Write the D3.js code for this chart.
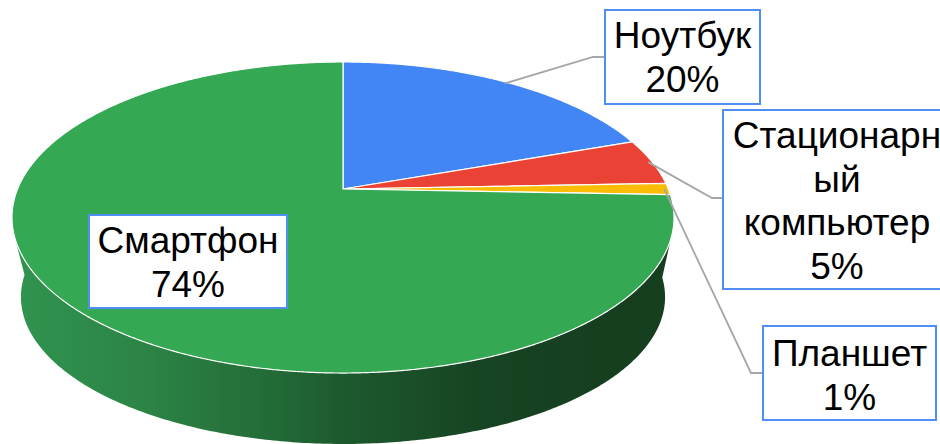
<!DOCTYPE html>
<html>
<head>
<meta charset="utf-8">
<script src="https://cdn.jsdelivr.net/npm/d3@7"></script>
<style>
    html, body { margin: 0; padding: 0; background: #fff; overflow: hidden; }
</style>
</head>
<body>
<div id="chart"></div>
<script>
const categories = ["Ноутбук", "Стационарный компьютер", "Планшет", "Смартфон"];
const shares = [19.6, 4.8, 1.2, 74.4];
const sliceColors = ["#4285f4", "#ea4335", "#fbbc04", "#34a853"];
const labelLines = [["Ноутбук"], ["Стационарн", "ый", "компьютер"], ["Планшет"], ["Смартфон"]];

const width = 940;
const height = 444;

const svg = d3.select("#chart")
    .append("svg")
    .attr("width", width)
    .attr("height", height)
    .style("display", "block");

// tilted disc: unit circle goes through a small perspective divide
const persp = 0.1833;
const cx = 343;
const cy = 189;
const discX = 325.4;
const discY = 150.3;

function project(angle, r) {
    const u = Math.sin(angle) * r;
    const v = -Math.cos(angle) * r;
    const w = 1 - persp * v;
    return [cx + discX * u / w, cy + discY * v / w];
}

// the lower rim of the wall is a slightly smaller ellipse further down
const rimCentre = 217.5;
const lowerCentre = 297;
const lowerScaleX = 0.973;
const lowerScaleY = 0.945;

function projectLower(angle) {
    const p = project(angle, 1);
    return [cx + (p[0] - cx) * lowerScaleX, lowerCentre + (p[1] - rimCentre) * lowerScaleY];
}

const line = d3.line();
const pie = d3.pie().sort(null).value(d => d.share);
const slices = pie(categories.map((name, i) => ({ name, share: shares[i], color: sliceColors[i], lines: labelLines[i] })));

const deg = Math.PI / 180;
const wallFrom = 108.5 * deg;
const wallTo = 252 * deg;
const lowerFrom = 93 * deg;
const lowerTo = 268 * deg;

const gradient = svg.append("defs").append("linearGradient")
    .attr("id", "wall")
    .attr("gradientUnits", "userSpaceOnUse")
    .attr("x1", 13).attr("x2", 672).attr("y1", 0).attr("y2", 0);
[[0, "#30944f"], [0.2, "#2c8445"], [0.4, "#226a37"], [0.5, "#1d5a2e"], [0.7, "#174524"], [0.88, "#163f20"], [1, "#163f20"]]
    .forEach(s => gradient.append("stop").attr("offset", s[0]).attr("stop-color", s[1]));

const wallAngles = d3.range(wallFrom, wallTo, 0.01).concat(wallTo);
const lowerAngles = d3.range(lowerFrom, lowerTo, 0.01).concat(lowerTo);
const wallPoints = wallAngles.map(a => project(a, 1))
    .concat(lowerAngles.reverse().map(projectLower));

svg.append("path")
    .attr("d", line(wallPoints) + "Z")
    .attr("fill", "url(#wall)");

svg.selectAll(".slice")
    .data(slices)
    .enter()
    .append("path")
    .attr("class", "slice")
    .attr("d", d => {
        const angles = d3.range(d.startAngle, d.endAngle, 0.005).concat(d.endAngle);
        return line([[cx, cy]].concat(angles.map(a => project(a, 1)))) + "Z";
    })
    .attr("fill", d => d.data.color)
    .attr("stroke", "#fff")
    .attr("stroke-width", 1.2)
    .attr("stroke-linejoin", "round");

// label boxes, by category order
const boxes = [
    { x: 605, y: 10, w: 155, h: 94, elbowX: 593, elbowY: 57, first: 48 },
    { x: 723, y: 110, w: 228, h: 179, elbowX: 712, elbowY: 198, first: 148 },
    { x: 763, y: 326, w: 173, h: 94, elbowX: 751, elbowY: 373, first: 366 },
    { x: 89, y: 215, w: 198, h: 93, first: 253 }
];
const lineStep = 43.7;

const leaders = slices.filter(d => boxes[d.index].elbowX !== undefined);
svg.selectAll(".leader")
    .data(leaders)
    .enter()
    .append("path")
    .attr("class", "leader")
    .attr("d", d => {
        const b = boxes[d.index];
        return line([project((d.startAngle + d.endAngle) / 2, 0.987), [b.elbowX, b.elbowY], [b.x, b.elbowY]]);
    })
    .attr("fill", "none")
    .attr("stroke", "#a6a6a6")
    .attr("stroke-width", 1.8);

const labels = svg.selectAll(".label")
    .data(slices)
    .enter()
    .append("g")
    .attr("class", "label");

labels.append("rect")
    .attr("x", d => boxes[d.index].x)
    .attr("y", d => boxes[d.index].y)
    .attr("width", d => boxes[d.index].w)
    .attr("height", d => boxes[d.index].h)
    .attr("fill", "#fff")
    .attr("stroke", "#4f8ef5")
    .attr("stroke-width", 2);

labels.append("text")
    .attr("font-family", "'Liberation Sans', Arial, sans-serif")
    .attr("font-size", 37)
    .attr("fill", "#000")
    .attr("text-anchor", "middle")
    .selectAll("tspan")
    .data(d => d.data.lines.concat(d3.format(".0f")(d.data.share) + "%").map(t => ({ t, b: boxes[d.index] })))
    .enter()
    .append("tspan")
    .attr("x", d => d.b.x + d.b.w / 2)
    .attr("y", (d, i) => d.b.first + i * lineStep)
    .text(d => d.t);
</script>
</body>
</html>
